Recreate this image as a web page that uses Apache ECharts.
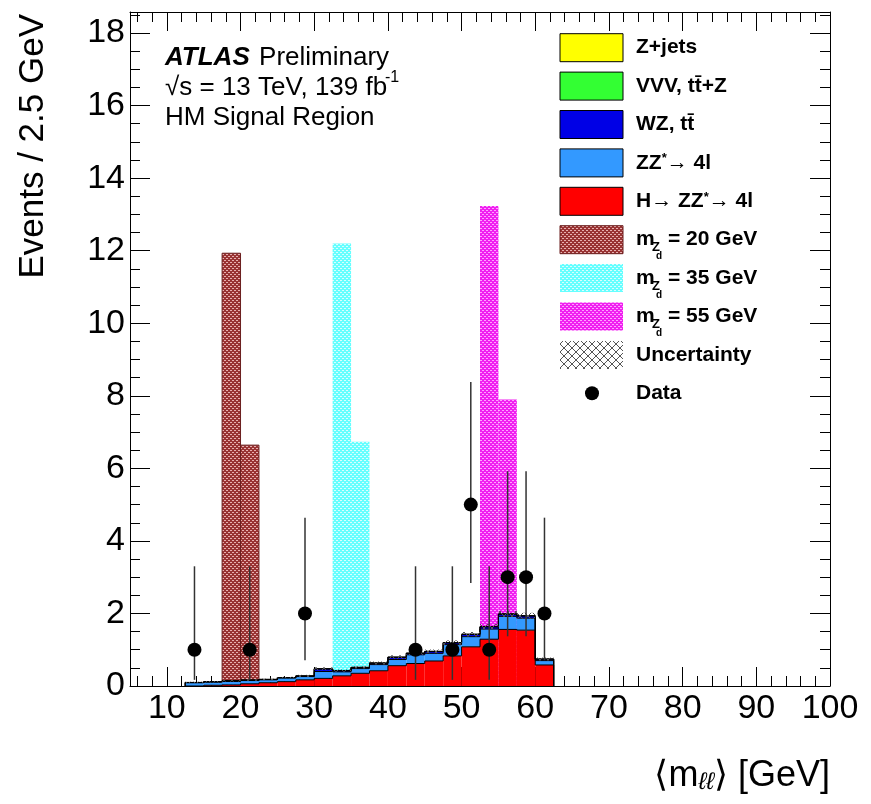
<!DOCTYPE html>
<html><head><meta charset="utf-8">
<script src="https://cdn.jsdelivr.net/npm/echarts@6/dist/echarts.min.js"></script>
<style>html,body{margin:0;padding:0;background:#fff}#c{width:871px;height:804px}</style>
</head><body><div id="c"></div>
<script>
// ---------------- data ----------------
const binLow   = [12.5,15,17.5,20,22.5,25,27.5,30,32.5,35,37.5,40,42.5,45,47.5,50,52.5,55,57.5,60];
const binWidth = 2.5;
const higgs = [0.00,0.02,0.03,0.06,0.09,0.12,0.17,0.21,0.28,0.35,0.42,0.56,0.62,0.69,0.83,1.08,1.29,1.56,1.54,0.58];
const zz    = [0.09,0.09,0.10,0.09,0.08,0.10,0.09,0.19,0.11,0.13,0.17,0.17,0.24,0.21,0.31,0.28,0.28,0.36,0.33,0.12];
const wz    = [0.005,0.005,0.01,0.01,0.01,0.01,0.015,0.07,0.03,0.03,0.04,0.06,0.04,0.05,0.05,0.06,0.06,0.06,0.06,0.04];
const vvv   = [0.002,0.002,0.002,0.002,0.002,0.002,0.002,0.003,0.003,0.003,0.003,0.004,0.004,0.004,0.004,0.005,0.005,0.005,0.005,0.003];
const zjets = [0.001,0.001,0.001,0.001,0.001,0.001,0.001,0.002,0.002,0.002,0.002,0.002,0.002,0.002,0.002,0.003,0.003,0.003,0.003,0.002];
const uncert= [0.02,0.02,0.02,0.02,0.02,0.02,0.03,0.04,0.03,0.03,0.04,0.05,0.05,0.05,0.06,0.06,0.07,0.08,0.08,0.04];

const sig20Low = [17.5,20],  sig20 = [11.93,6.64];
const sig35Low = [32.5,35],  sig35 = [12.20,6.73];
const sig55Low = [52.5,55],  sig55 = [13.23,7.90];

const dataX     = [13.75,21.25,28.75,43.75,48.75,51.25,53.75,56.25,58.75,61.25];
const dataY     = [1,1,2,1,1,5,1,3,3,2];
const dataErrLo = [0.83,0.83,1.29,0.83,0.83,2.16,0.83,1.63,1.63,1.29];
const dataErrHi = [2.30,2.30,2.64,2.30,2.30,3.38,2.30,2.92,2.92,2.64];

const xTickLabels = [10,20,30,40,50,60,70,80,90,100];
const yTickLabels = [0,2,4,6,8,10,12,14,16,18];

// ---------------- styles ----------------
const FONT = "'Liberation Sans', Arial, Helvetica, sans-serif";
function dotPattern(bg, dot){
  const c=document.createElement('canvas'); c.width=4; c.height=4;
  const g=c.getContext('2d'); g.fillStyle=bg; g.fillRect(0,0,4,4);
  g.fillStyle=dot; g.fillRect(0,0,2,1); g.fillRect(2,2,2,1);
  return {image:c, repeat:'repeat'};
}
function crossPattern(){
  const c=document.createElement('canvas'); c.width=8; c.height=8;
  const g=c.getContext('2d'); g.strokeStyle='#555'; g.lineWidth=1;
  g.beginPath(); g.moveTo(0,0); g.lineTo(8,8); g.moveTo(8,0); g.lineTo(0,8); g.stroke();
  return {image:c, repeat:'repeat'};
}
const P20 = dotPattern('#993333','#e8b0b0');
const P35 = dotPattern('#66ffff','#d8ffff');
const P55 = dotPattern('#f020f0','#ffa0ff');
const PUNC = crossPattern();

// stacking (bottom to top)
const layers = [
  {name:'H→ ZZ*→ 4l', vals:higgs, color:'#ff0000'},
  {name:'ZZ*→ 4l',    vals:zz,    color:'#3399ff'},
  {name:'WZ, tt̄',     vals:wz,    color:'#0000e6'},
  {name:'VVV, tt̄+Z',  vals:vvv,   color:'#33ff33'},
  {name:'Z+jets',     vals:zjets, color:'#ffff00'}
];
const cum = [];
layers.forEach((L,k)=>{ cum.push(L.vals.map((v,i)=> v + (k>0?cum[k-1][i]:0))); });
const total = cum[cum.length-1];

function rectRender(fill, stroke){
  return function(params, api){
    const p0=api.coord([api.value(0), api.value(3)]);
    const p1=api.coord([api.value(1), api.value(2)]);
    return {type:'rect', shape:{x:p0[0], y:p0[1], width:p1[0]-p0[0], height:p1[1]-p0[1]},
      style:{fill:fill, stroke:stroke||null, lineWidth:stroke?1:0}};
  };
}

const series = [];
// signals
[[sig20Low,sig20,P20,'#6b1f1f','m_Zd = 20 GeV'],[sig35Low,sig35,P35,null,'m_Zd = 35 GeV'],[sig55Low,sig55,P55,null,'m_Zd = 55 GeV']].forEach(s=>{
  series.push({type:'custom', name:s[4], z:1, clip:true,
    renderItem: rectRender(s[2], s[3]),
    data: s[0].map((lo,i)=>[lo, lo+binWidth, 0, s[1][i]])});
});
// stack fills
layers.forEach((L,k)=>{
  series.push({type:'custom', name:L.name, z:2, clip:true,
    renderItem: rectRender(L.color, null),
    data: binLow.map((lo,i)=>[lo, lo+binWidth, k>0?cum[k-1][i]:0, cum[k][i]])});
});
// stack outlines
series.push({type:'custom', name:'outline', z:3, clip:true,
  renderItem: function(params, api){
    const k = api.value(0); const T = cum[k]; const pts=[];
    pts.push(api.coord([binLow[0],0]));
    binLow.forEach((lo,i)=>{ pts.push(api.coord([lo,T[i]])); pts.push(api.coord([lo+binWidth,T[i]])); });
    pts.push(api.coord([binLow[binLow.length-1]+binWidth,0]));
    return {type:'polyline', shape:{points:pts}, style:{stroke:'#000', lineWidth:1, fill:null}};
  },
  data: layers.map((L,k)=>[k])});
// uncertainty
series.push({type:'custom', name:'Uncertainty', z:4, clip:true,
  renderItem: rectRender(PUNC, null),
  data: binLow.map((lo,i)=>[lo, lo+binWidth, total[i]-uncert[i], total[i]+uncert[i]])});
// data error bars
series.push({type:'custom', name:'err', z:5,
  renderItem: function(params, api){
    const a=api.coord([api.value(0), api.value(1)]), b=api.coord([api.value(0), api.value(2)]);
    return {type:'line', shape:{x1:a[0],y1:a[1],x2:b[0],y2:b[1]}, style:{stroke:'#333', lineWidth:1.5}};
  },
  data: dataX.map((x,i)=>[x, dataY[i]-dataErrLo[i], dataY[i]+dataErrHi[i]])});
series.push({type:'scatter', name:'Data', z:6, symbol:'circle', symbolSize:14,
  itemStyle:{color:'#000', opacity:1}, emphasis:{disabled:true}, data: dataX.map((x,i)=>[x, dataY[i]])});

// ---------------- axes ----------------
function xAx(pos, labels){
  return {type:'value', min:5, max:100, splitNumber:10, position:pos,
    axisLine:{show:true, onZero:false, lineStyle:{color:'#000', width:1}},
    axisTick:{show:true, inside:true, length:19, lineStyle:{color:'#000', width:1}},
    minorTick:{show:true, splitNumber:5, length:10, lineStyle:{color:'#000', width:1}},
    splitLine:{show:false},
    axisLabel:{show:labels, fontSize:34, color:'#000', fontFamily:FONT, margin:6,
      formatter: v => xTickLabels.indexOf(v)>=0 ? String(v) : ''}};
}
function yAx(pos, labels){
  return {type:'value', min:0, max:18.58, interval:2, position:pos,
    axisLine:{show:true, onZero:false, lineStyle:{color:'#000', width:1}},
    axisTick:{show:true, inside:true, length:20, lineStyle:{color:'#000', width:1}},
    minorTick:{show:true, splitNumber:4, length:10, lineStyle:{color:'#000', width:1}},
    splitLine:{show:false},
    axisLabel:{show:labels, fontSize:34, color:'#000', fontFamily:FONT, margin:5,
      formatter: v => yTickLabels.indexOf(v)>=0 ? String(v) : ''}};
}

// ---------------- text / legend ----------------
const graphic = [];
graphic.push({type:'text', x:33, y:14, rotation:Math.PI/2,
  style:{text:'Events / 2.5 GeV', font:'35px '+FONT, fill:'#000', align:'right', verticalAlign:'middle'}});
graphic.push({type:'text', x:830, y:776,
  style:{text:'⟨m{s|ℓℓ}⟩ [GeV]', font:'36px '+FONT, fill:'#000', align:'right', verticalAlign:'middle',
    rich:{s:{fontSize:24, fontStyle:'italic', fontFamily:FONT, verticalAlign:'bottom'}}}});
graphic.push({type:'text', x:165, y:58,
  style:{text:'{a|ATLAS} {b|Preliminary}', fill:'#000', align:'left', verticalAlign:'middle',
    rich:{a:{fontSize:26, fontWeight:'bold', fontStyle:'italic', fontFamily:FONT, padding:[0,6,0,0]}, b:{fontSize:26, fontFamily:FONT}}}});
graphic.push({type:'text', x:165, y:88,
  style:{text:'√s = 13 TeV, 139 fb', font:'26px '+FONT, fill:'#000', align:'left', verticalAlign:'middle'}});
graphic.push({type:'text', x:385, y:78,
  style:{text:'-1', font:'16px '+FONT, fill:'#000', align:'left', verticalAlign:'middle'}});
graphic.push({type:'text', x:165, y:118,
  style:{text:'HM Signal Region', font:'26px '+FONT, fill:'#000', align:'left', verticalAlign:'middle'}});

const legRows = [
  {fill:'#ffff00', stroke:'#000', text:'Z+jets'},
  {fill:'#33ff33', stroke:'#000', text:'VVV, tt̄+Z'},
  {fill:'#0000e6', stroke:'#000', text:'WZ, tt̄'},
  {fill:'#3399ff', stroke:'#000', text:'ZZ{s|*}→ 4l'},
  {fill:'#ff0000', stroke:'#000', text:'H→ ZZ{s|*}→ 4l'},
  {fill:P20, stroke:'#6b1f1f', mz:'= 20 GeV'},
  {fill:P35, stroke:null, mz:'= 35 GeV'},
  {fill:P55, stroke:null, mz:'= 55 GeV'},
  {fill:PUNC, stroke:null, text:'Uncertainty'},
  {dot:true, text:'Data'}
];
const LB = "bold 21px "+FONT;
legRows.forEach((r,i)=>{
  const cy = 47.7 + i*38.4;
  if (r.dot){
    graphic.push({type:'circle', shape:{cx:592, cy:cy, r:7}, style:{fill:'#000'}});
  } else {
    graphic.push({type:'rect', shape:{x:560, y:cy-14, width:63, height:28},
      style:{fill:r.fill, stroke:r.stroke, lineWidth:r.stroke?1:0}});
  }
  if (r.mz){
    graphic.push({type:'text', x:636, y:cy, style:{text:'m', font:LB, fill:'#000', verticalAlign:'middle'}});
    graphic.push({type:'text', x:652, y:cy+8, style:{text:'Z', font:'bold 13px '+FONT, fill:'#000', verticalAlign:'middle'}});
    graphic.push({type:'text', x:656, y:cy+17, style:{text:'d', font:'bold 10px '+FONT, fill:'#000', verticalAlign:'middle'}});
    graphic.push({type:'text', x:668, y:cy, style:{text:r.mz, font:LB, fill:'#000', verticalAlign:'middle'}});
  } else {
    graphic.push({type:'text', x:636, y:cy, style:{text:r.text, font:LB, fill:'#000', verticalAlign:'middle',
      rich:{s:{fontSize:13, fontWeight:'bold', fontFamily:FONT, verticalAlign:'top'}}}});
  }
});

const chart = echarts.init(document.getElementById('c'), null, {renderer:'canvas'});
chart.setOption({
  animation:false,
  backgroundColor:'#fff',
  grid:{left:130, right:41, top:12, bottom:118, containLabel:false, outerBoundsMode:'none'},
  xAxis:[xAx('bottom', true), xAx('top', false)],
  yAxis:[yAx('left', true), yAx('right', false)],
  series: series,
  graphic: graphic
});
</script></body></html>
